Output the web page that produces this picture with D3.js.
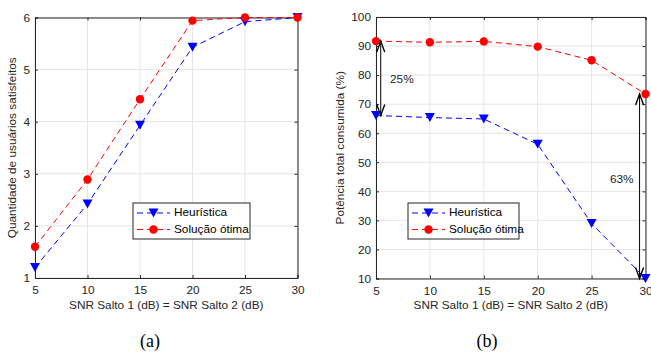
<!DOCTYPE html>
<html>
<head>
<meta charset="utf-8">
<script src="https://cdn.jsdelivr.net/npm/d3@7"></script>
<style>
  body { margin: 0; background: #fff; }
  svg { font-family: "Liberation Sans", Arial, Helvetica, sans-serif; }
</style>
</head>
<body>
<svg id="canvas" width="651" height="352"></svg>
<script>
const snr = [5, 10, 15, 20, 25, 30];

// (a) number of satisfied users
const usersHeur = [1.2, 2.42, 3.93, 5.43, 5.92, 6];
const usersOpt = [1.6, 2.89, 4.43, 5.94, 6, 6];

// (b) total power consumed (%)
const powerHeur = [66.1, 65.4, 64.9, 56.2, 28.9, 10];
const powerOpt = [91.7, 91.3, 91.6, 89.8, 85.1, 73.5];

const xTicks = [5, 10, 15, 20, 25, 30];
const usersTicks = [1, 2, 3, 4, 5, 6];
const powerTicks = [10, 20, 30, 40, 50, 60, 70, 80, 90, 100];

const legendNames = ['Heurística', 'Solução ótima'];

// annotation arrows between the two curves
const gapArrows = [
  {x: 5.44, y0: 91.7, y1: 66.1, label: '25%', lx: 7.4, ly: 78.3},
  {x: 29.45, y0: 73.5, y1: 10, label: '63%', lx: 27.8, ly: 44}
];

const svg = d3.select('#canvas');
const axisColor = '#262626';
const gridColor = '#e5e5e5';
const fs = '11.8px';

function drawPanel(opt) {
  const g = svg.append('g');
  const x = d3.scaleLinear().domain([5, 30]).range([opt.left, opt.right]);
  const y = d3.scaleLinear().domain(opt.yDomain).range([opt.bottom, opt.top]);

  // grid
  g.selectAll('.gx').data(xTicks).enter().append('line')
    .attr('x1', d => x(d)).attr('x2', d => x(d))
    .attr('y1', opt.top).attr('y2', opt.bottom)
    .attr('stroke', gridColor).attr('stroke-width', 1);
  g.selectAll('.gy').data(opt.yTicks).enter().append('line')
    .attr('x1', opt.left).attr('x2', opt.right)
    .attr('y1', d => y(d)).attr('y2', d => y(d))
    .attr('stroke', gridColor).attr('stroke-width', 1);

  // axes (ticks inward, box on)
  const bottomAx = g.append('g').attr('transform', `translate(0,${opt.bottom})`)
    .call(d3.axisBottom(x).tickValues(xTicks).tickSize(-3).tickPadding(8).tickFormat(d3.format('d')));
  const leftAx = g.append('g').attr('transform', `translate(${opt.left},0)`)
    .call(d3.axisLeft(y).tickValues(opt.yTicks).tickSize(-3).tickPadding(5).tickFormat(d3.format('d')));
  const topAx = g.append('g').attr('transform', `translate(0,${opt.top})`)
    .call(d3.axisTop(x).tickValues(xTicks).tickSize(-3).tickFormat(''));
  const rightAx = g.append('g').attr('transform', `translate(${opt.right},0)`)
    .call(d3.axisRight(y).tickValues(opt.yTicks).tickSize(-3).tickFormat(''));
  [bottomAx, leftAx, topAx, rightAx].forEach(a => {
    a.select('.domain').attr('stroke', axisColor);
    a.selectAll('.tick line').attr('stroke', axisColor);
    a.selectAll('text').attr('fill', axisColor).style('font-size', fs)
      .style('font-family', '"Liberation Sans", Arial, sans-serif');
  });
  // keep the last x label inside the page
  if (opt.right > 640) {
    bottomAx.selectAll('.tick text').filter(d => d === 30).attr('text-anchor', 'end').attr('dx', '6.5');
  }

  // series
  const line = d3.line().x((d, i) => x(snr[i])).y(d => y(d));
  const series = [
    {vals: opt.heur, color: '#0000ff', marker: 'tri'},
    {vals: opt.opt, color: '#ff0000', marker: 'circ'}
  ];
  series.forEach(s => {
    g.append('path').datum(s.vals)
      .attr('d', line).attr('fill', 'none')
      .attr('stroke', s.color).attr('stroke-width', 1)
      .attr('stroke-dasharray', '6,4');
  });
  series.forEach(s => {
    s.vals.forEach((v, i) => drawMarker(g, x(snr[i]), y(v), s));
  });

  // annotations
  (opt.arrows || []).forEach(a => {
    const ax = x(a.x), ya = y(a.y0), yb = y(a.y1);
    g.append('line').attr('x1', ax).attr('x2', ax).attr('y1', ya).attr('y2', yb)
      .attr('stroke', '#000').attr('stroke-width', 1);
    [[ya, 1], [yb, -1]].forEach(([yy, dir]) => {
      g.append('path')
        .attr('d', `M${ax - 4},${yy + dir * 11}L${ax},${yy}L${ax + 4},${yy + dir * 11}`)
        .attr('fill', 'none').attr('stroke', '#000').attr('stroke-width', 1.4);
    });
    g.append('text').attr('x', x(a.lx)).attr('y', y(a.ly))
      .attr('text-anchor', 'middle').attr('dominant-baseline', 'middle')
      .attr('fill', axisColor).style('font-size', fs).text(a.label);
  });

  // legend
  const lg = g.append('g').attr('transform', `translate(${opt.legend[0]},${opt.legend[1]})`);
  lg.append('rect').attr('width', opt.legend[2]).attr('height', 36)
    .attr('fill', '#fff').attr('stroke', axisColor).attr('stroke-width', 1);
  series.forEach((s, i) => {
    const ly = 10 + i * 16.5;
    lg.append('line').attr('x1', 4).attr('x2', 37).attr('y1', ly).attr('y2', ly)
      .attr('stroke', s.color).attr('stroke-width', 1).attr('stroke-dasharray', '6,4');
    drawMarker(lg, 20.5, ly, s);
    lg.append('text').attr('x', 41).attr('y', ly).attr('dominant-baseline', 'middle')
      .attr('fill', '#000').style('font-size', fs).text(legendNames[i]);
  });

  // labels
  g.append('text').attr('x', (opt.left + opt.right) / 2).attr('y', 309)
    .attr('text-anchor', 'middle').attr('fill', axisColor).style('font-size', fs)
    .text('SNR Salto 1 (dB) = SNR Salto 2 (dB)');
  g.append('text')
    .attr('transform', `translate(${opt.ylabX},${(opt.top + opt.bottom) / 2}) rotate(-90)`)
    .attr('text-anchor', 'middle').attr('fill', axisColor).style('font-size', fs)
    .text(opt.ylabel);
  g.append('text').attr('x', opt.captionX).attr('y', 347)
    .attr('text-anchor', 'middle').attr('fill', '#000')
    .style('font-family', '"Liberation Serif", "Times New Roman", serif').style('font-size', '18px')
    .text(opt.caption);
}

function drawMarker(g, cx, cy, s) {
  if (s.marker === 'tri') {
    g.append('path').attr('d', `M${cx - 5},${cy - 4.5}L${cx + 5},${cy - 4.5}L${cx},${cy + 4.5}Z`)
      .attr('fill', s.color);
  } else {
    g.append('circle').attr('cx', cx).attr('cy', cy).attr('r', 4.2).attr('fill', s.color);
  }
}

drawPanel({
  left: 35, right: 297.5, top: 17.5, bottom: 278,
  yDomain: [1, 6], yTicks: usersTicks,
  heur: usersHeur, opt: usersOpt,
  legend: [133, 203, 117],
  ylabel: 'Quantidade de usuários satisfeitos', ylabX: 16,
  caption: '(a)', captionX: 150
});

drawPanel({
  left: 376, right: 645.5, top: 17, bottom: 278.5,
  yDomain: [10, 100], yTicks: powerTicks,
  heur: powerHeur, opt: powerOpt,
  legend: [408, 203, 111],
  arrows: gapArrows,
  ylabel: 'Potência total consumida (%)', ylabX: 344,
  caption: '(b)', captionX: 487
});
</script>
</body>
</html>
